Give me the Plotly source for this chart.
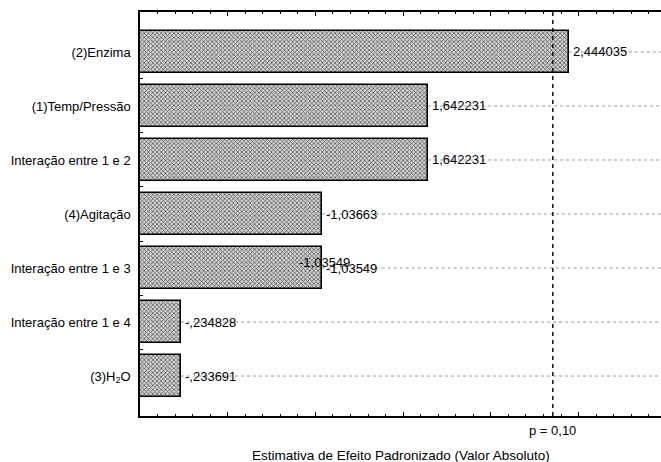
import plotly.graph_objects as go

# Standardized effects (signed) for each factor / interaction
factors = [
    "(2)Enzima",
    "(1)Temp/Pressão",
    "Interação entre 1 e 2",
    "(4)Agitação",
    "Interação entre 1 e 3",
    "Interação entre 1 e 4",
    "(3)H<sub>2</sub>O",
]
effects = [2.444035, 1.642231, 1.642231, -1.03663, -1.03549, -0.234828, -0.233691]
p_label = "p = 0,10"
t_critical = 2.3534  # two-sided t limit at p = 0.10
x_max = 2.97
x_title = "Estimativa de Efeito Padronizado (Valor Absoluto)"

FONT = "Liberation Sans, Arial, sans-serif"
FS = 13


def fmt(v):
    # Statistica-style number: comma decimal, leading zero dropped
    s = f"{v:.7g}".replace(".", ",")
    if s.startswith("0,"):
        s = s[1:]
    elif s.startswith("-0,"):
        s = "-" + s[2:]
    return s


abs_effects = [abs(v) for v in effects]
labels = [fmt(v) for v in effects]
ypos = list(range(len(factors)))

fig = go.Figure()
fig.add_trace(go.Bar(
    x=abs_effects,
    y=ypos,
    orientation="h",
    width=0.787,
    marker=dict(
        color="#c0c0c0",
        line=dict(color="black", width=1.6),
        pattern=dict(shape="x", size=3, solidity=0.4,
                     fgcolor="#4a4a4a", bgcolor="#d2d2d2", fillmode="replace"),
    ),
    hoverinfo="skip",
    showlegend=False,
))

shapes = []
annotations = []
for y, v, lab in zip(ypos, abs_effects, labels):
    # dotted leader line from the bar end to the right edge
    shapes.append(dict(type="line", xref="x", yref="y", x0=v, x1=x_max, y0=y, y1=y,
                       line=dict(color="#9a9a9a", width=1, dash="dot"), layer="below"))
    annotations.append(dict(x=v, y=y, xref="x", yref="y", text=lab, showarrow=False,
                            xanchor="left", yanchor="middle", xshift=2,
                            font=dict(family=FONT, size=FS, color="black")))

# repeated value label drawn by the source software for the 1x3 interaction
annotations.append(dict(x=abs_effects[4], y=ypos[4], xref="x", yref="y", text=labels[4],
                        showarrow=False, xanchor="left", yanchor="middle",
                        xshift=-25, yshift=6,
                        font=dict(family=FONT, size=FS, color="black")))

# significance limit
shapes.append(dict(type="line", xref="x", yref="paper", x0=t_critical, x1=t_critical,
                   y0=0, y1=1, line=dict(color="black", width=1.4, dash="4px,4px"),
                   layer="above"))
annotations.append(dict(x=t_critical, y=0, xref="x", yref="paper", text=p_label,
                        showarrow=False, xanchor="center", yanchor="top", yshift=-5,
                        font=dict(family=FONT, size=FS, color="black")))
annotations.append(dict(x=0.5, y=0, xref="paper", yref="paper", text=x_title,
                        showarrow=False, xanchor="center", yanchor="top", yshift=-30,
                        font=dict(family=FONT, size=13.5, color="black")))

fig.update_layout(
    width=661, height=462,
    margin=dict(l=140, r=0, t=12, b=46),
    paper_bgcolor="white", plot_bgcolor="white",
    font=dict(family=FONT, size=FS, color="black"),
    shapes=shapes, annotations=annotations,
    bargap=0,
)
fig.update_xaxes(
    range=[0, x_max], showgrid=False, zeroline=False,
    showline=True, linecolor="black", linewidth=1.5, mirror="ticks",
    ticks="inside", ticklen=4, tickcolor="black", dtick=0.5, tick0=0,
    showticklabels=False,
    minor=dict(ticks="inside", ticklen=2, dtick=0.1, tickcolor="black"),
)
fig.update_yaxes(
    range=[len(factors) - 1 + 0.74, -0.74],
    tickmode="array", tickvals=ypos, ticktext=factors,
    showgrid=False, zeroline=False,
    showline=True, linecolor="black", linewidth=1.5,
    ticks="", ticklabelstandoff=5,
    minor=dict(tickmode="array", tickvals=[i + 0.5 for i in ypos[:-1]],
               ticks="inside", ticklen=3, tickcolor="black"),
)

fig.write_html("out.html")
